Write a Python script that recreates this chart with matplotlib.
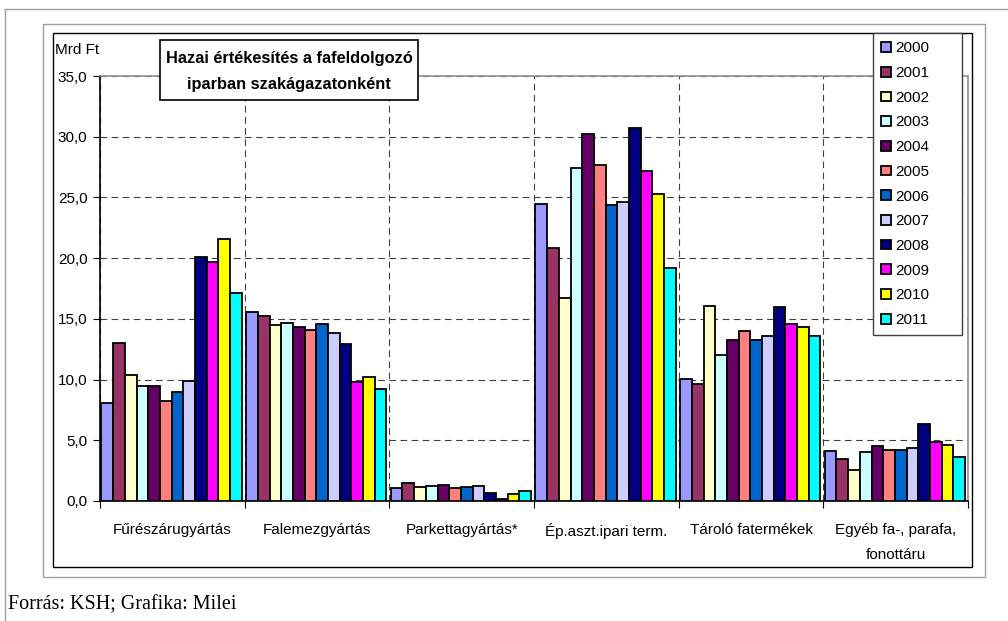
import numpy as np
import matplotlib.pyplot as plt
from matplotlib.patches import Rectangle

# adatok: hazai ertekesites szakagazatonkent, Mrd Ft
categories = ["Fűrészárugyártás", "Falemezgyártás", "Parkettagyártás*",
              "Ép.aszt.ipari term.", "Tároló fatermékek", "Egyéb fa-, parafa,\nfonottáru"]
years = ["2000", "2001", "2002", "2003", "2004", "2005",
         "2006", "2007", "2008", "2009", "2010", "2011"]

furesz = [8.1, 13.0, 10.4, 9.45, 9.45, 8.2, 9.0, 9.9, 20.1, 19.7, 21.6, 17.1]
falemez = [15.6, 15.2, 14.5, 14.65, 14.35, 14.05, 14.55, 13.8, 12.95, 9.8, 10.2, 9.25]
parketta = [1.05, 1.45, 1.15, 1.25, 1.3, 1.1, 1.15, 1.25, 0.65, 0.2, 0.55, 0.8]
epaszt = [24.5, 20.8, 16.7, 27.4, 30.25, 27.7, 24.4, 24.65, 30.75, 27.2, 25.3, 19.2]
tarolo = [10.05, 9.65, 16.1, 12.05, 13.25, 14.0, 13.3, 13.6, 16.0, 14.55, 14.3, 13.6]
egyeb = [4.15, 3.5, 2.55, 4.05, 4.5, 4.2, 4.2, 4.35, 6.35, 4.85, 4.6, 3.65]

yticks = [0, 5, 10, 15, 20, 25, 30, 35]
ytick_labels = ["0,0", "5,0", "10,0", "15,0", "20,0", "25,0", "30,0", "35,0"]

colors = ["#9999FF", "#993366", "#FFFFCC", "#CCFFFF", "#660066", "#FF8080",
          "#0066CC", "#CCCCFF", "#000080", "#FF00FF", "#FFFF00", "#00FFFF"]

plt.rcParams['font.family'] = ['Liberation Sans', 'DejaVu Sans']

W, H = 1008, 621
fig = plt.figure(figsize=(W / 100, H / 100), dpi=100)


def fx(x):
    return x / W


def fy(y):
    return 1 - y / H


# keretek
fig.add_artist(plt.Line2D([fx(5), 1], [fy(9), fy(9)], color="#a0a0a0", lw=1))
fig.add_artist(plt.Line2D([fx(5), fx(5)], [fy(9), 0], color="#a0a0a0", lw=1))
fig.add_artist(Rectangle((fx(43), fy(577)), fx(985) - fx(43), fy(24) - fy(577),
                         fill=False, edgecolor="#a0a0a0", lw=1))
fig.add_artist(Rectangle((fx(53), fy(567)), fx(972) - fx(53), fy(33) - fy(567),
                         fill=False, edgecolor="black", lw=1))

ax = fig.add_axes([fx(100), fy(501), fx(968) - fx(100), fy(76) - fy(501)])

data = np.array([furesz, falemez, parketta, epaszt, tarolo, egyeb])
w = 0.97 / len(years)
x = np.arange(len(categories))
bars = []
for j, yr in enumerate(years):
    b = ax.bar(x + 0.01 + (j + 0.5) * w, data[:, j], width=w, color=colors[j],
               edgecolor="black", linewidth=1.3, label=yr, zorder=3)
    bars.append(b)

ax.set_xlim(0, 6)
ax.set_ylim(0, 35)
ax.set_yticks(yticks)
ax.set_yticklabels(ytick_labels, fontsize=11)
ax.set_xticks(range(7))
ax.set_xticklabels([])
ax.set_xticks(x + 0.5, minor=True)
ax.set_xticklabels(categories, minor=True, fontsize=11, linespacing=2.0)
ax.tick_params(axis="x", which="minor", length=0, pad=16)
ax.tick_params(axis="x", which="major", length=5, direction="out")
ax.tick_params(axis="y", length=5, direction="out", pad=4)

ax.set_axisbelow(True)
ax.grid(True, color="#404040", linestyle=(0, (6, 4)), linewidth=0.8)
for s in ["top", "right"]:
    ax.spines[s].set_color("#909090")
    ax.spines[s].set_linewidth(1.2)
for s in ["left", "bottom"]:
    ax.spines[s].set_color("black")
    ax.spines[s].set_linewidth(1.2)

fig.text(fx(55), fy(50), "Mrd Ft", fontsize=11, va="center", ha="left")

# cim doboz
fig.add_artist(Rectangle((fx(160), fy(100)), fx(418) - fx(160), fy(40) - fy(100),
                         facecolor="white", edgecolor="black", lw=1.2, zorder=5))
fig.text(fx(289), fy(58), "Hazai értékesítés a fafeldolgozó", fontsize=11.8,
         fontweight="bold", ha="center", va="center", zorder=6)
fig.text(fx(289), fy(84), "iparban szakágazatonként", fontsize=11.8,
         fontweight="bold", ha="center", va="center", zorder=6)

leg = fig.legend(handles=bars, loc="upper left",
                 bbox_to_anchor=(fx(873), fy(330), fx(962) - fx(873), fy(33) - fy(330)),
                 mode="expand", fontsize=11, frameon=True, fancybox=False,
                 edgecolor="#404040", framealpha=1, handlelength=0.6,
                 handleheight=0.6, handletextpad=0.3, labelspacing=0.70,
                 borderpad=0.55, borderaxespad=0)
leg.get_frame().set_linewidth(1.0)

fig.text(fx(8), fy(605), "Forrás: KSH; Grafika: Milei", fontsize=14.5,
         family="Liberation Serif", ha="left", va="center")

fig.savefig("out.png", dpi=100)
